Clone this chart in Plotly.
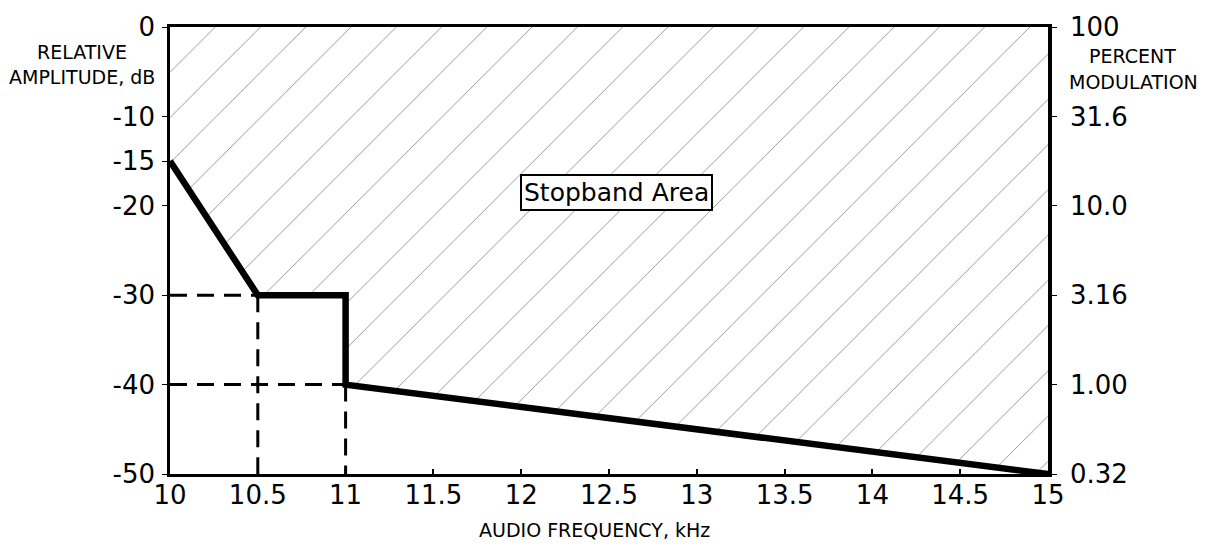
import plotly.graph_objects as go

# Data
mask_freq = [10, 10.5, 11, 11, 15]          # kHz
mask_db = [-15, -30, -30, -40, -50]         # relative amplitude, dB
ref_h1_x = [10, 10.5]; ref_h1_y = [-30, -30]
ref_v1_x = [10.5, 10.5]; ref_v1_y = [-30, -50]
ref_h2_x = [10, 11]; ref_h2_y = [-40, -40]
ref_v2_x = [11, 11]; ref_v2_y = [-40, -50]
x_ticks = [10, 10.5, 11, 11.5, 12, 12.5, 13, 13.5, 14, 14.5, 15]
x_ticktext = ["10", "10.5", "11", "11.5", "12", "12.5", "13", "13.5", "14", "14.5", "15"]
left_ticks = [0, -10, -15, -20, -30, -40, -50]
left_ticktext = ["0", "-10", "-15", "-20", "-30", "-40", "-50"]
right_ticks = [0, -10, -20, -30, -40, -50]
right_ticktext = ["100", "31.6", "10.0", "3.16", "1.00", "0.32"]
top_db = 0

FONT = "DejaVu Sans"

fig = go.Figure()

# Hatched stopband polygon (mask line closed along the top edge)
poly_x = mask_freq + [mask_freq[-1], mask_freq[0]]
poly_y = mask_db + [top_db, top_db]
fig.add_trace(go.Scatter(
    x=poly_x, y=poly_y, mode="lines", fill="toself",
    line=dict(width=0, color="rgba(0,0,0,0)"),
    fillcolor="rgba(255,255,255,0)",
    fillpattern=dict(shape="/", size=32, solidity=0.03, fgcolor="#2a2a2a", bgcolor="white"),
    hoverinfo="skip", showlegend=False))

dash = "17px,10px"
for xs, ys in [(ref_h1_x, ref_h1_y), (ref_v1_x, ref_v1_y), (ref_h2_x, ref_h2_y), (ref_v2_x, ref_v2_y)]:
    fig.add_trace(go.Scatter(x=xs, y=ys, mode="lines",
                             line=dict(color="black", width=3, dash=dash),
                             showlegend=False, hoverinfo="skip", cliponaxis=False))

fig.add_trace(go.Scatter(x=mask_freq, y=mask_db, mode="lines",
                         line=dict(color="black", width=6.5),
                         showlegend=False, cliponaxis=False))

# invisible trace on right axis
fig.add_trace(go.Scatter(x=[mask_freq[0]], y=[mask_db[0]], yaxis="y2", mode="markers",
                         marker=dict(opacity=0), showlegend=False, hoverinfo="skip"))

fig.add_annotation(x=12.545, y=-18.5, text="Stopband Area", showarrow=False,
                   font=dict(family=FONT, size=25, color="black"),
                   bgcolor="white", bordercolor="black", borderwidth=2, borderpad=2)

ann_font = dict(family=FONT, size=19, color="black")
pw, ph, l, t = 878, 457, 170, 17
def px(xp): return (xp - l) / pw
def py(yp): return (t + ph - yp) / ph
for txt, x, y in [("RELATIVE", 82, 43), ("AMPLITUDE, dB", 82, 68),
                  ("PERCENT", 1132, 47), ("MODULATION", 1133, 73),
                  ("AUDIO FREQUENCY, kHz", 594, 531)]:
    fig.add_annotation(x=px(x), y=py(y), xref="paper", yref="paper", text=txt,
                       showarrow=False, font=ann_font, xanchor="center", yanchor="middle")

tick_font = dict(family=FONT, size=26, color="black")
fig.update_layout(
    width=1205, height=550,
    margin=dict(l=170, r=157, t=17, b=76),
    plot_bgcolor="white", paper_bgcolor="white",
    xaxis=dict(range=[10, 15], tickvals=x_ticks, ticktext=x_ticktext,
               showgrid=False, zeroline=False, showline=True, linecolor="black",
               linewidth=3, mirror=True, ticks="inside", ticklen=5, tickwidth=2,
               tickcolor="black", tickfont=tick_font, ticklabelstandoff=-4),
    yaxis=dict(range=[-50, 0], tickvals=left_ticks, ticktext=left_ticktext,
               showgrid=False, zeroline=False,
               showline=True, linecolor="black", linewidth=2.5, ticks="outside",
               ticklen=5, tickwidth=1, tickcolor="black", tickfont=tick_font,
               ticklabelstandoff=2),
    yaxis2=dict(range=[-50, 0], overlaying="y", side="right", tickvals=right_ticks,
                ticktext=right_ticktext, showgrid=False, zeroline=False,
                showline=True, linecolor="black", linewidth=3.5, ticks="outside",
                ticklen=5, tickwidth=1, tickcolor="black", tickfont=tick_font,
                ticklabelstandoff=8),
)

fig.write_html("out.html")
